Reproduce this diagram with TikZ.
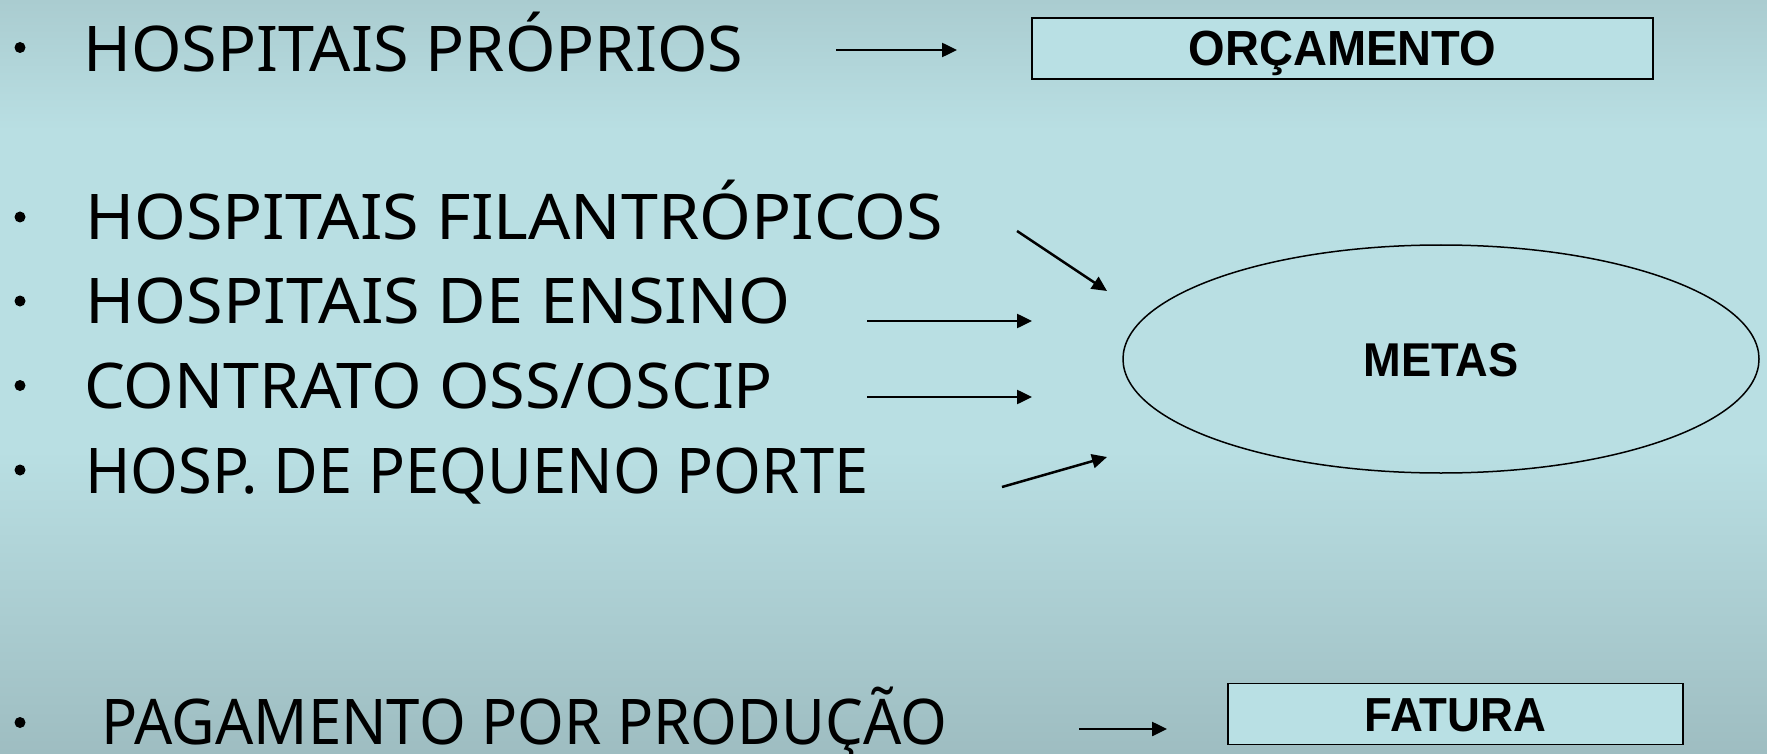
\documentclass[tikz,border=0pt]{standalone}
\usepackage{fontspec}
\setmainfont{Noto Sans}
\newfontfamily\arialfont{Liberation Sans}
\usetikzlibrary{arrows.meta,shapes.geometric}
\definecolor{bgtop}{RGB}{170,204,208}
\definecolor{bgmid}{RGB}{185,223,227}
\definecolor{bgbot}{RGB}{158,189,193}
\definecolor{boxfill}{RGB}{185,224,228}
\newcommand{\tallbox}[1]{\scalebox{1}[1.05]{#1}}
\tikzset{
  lbl/.style={anchor=base west, inner sep=0pt, font=\fontsize{63}{70}\selectfont},
  bul/.style={circle, fill=black, inner sep=0pt, minimum size=11pt},
  boxnode/.style={draw=black, line width=1.5pt, fill=boxfill, inner sep=0pt,
    minimum height=61pt, text height=35pt, text depth=0pt},
  arr/.style={line width=2.5pt, -{Triangle[length=15pt,width=14pt]}},
}
\begin{document}
\begin{tikzpicture}[x=1pt,y=-1pt]
\useasboundingbox (0,0) rectangle (1767,754);
% background
\shade[top color=bgtop,bottom color=bgmid] (0,0) rectangle (1767,131);
\fill[bgmid] (0,130) rectangle (1767,451);
\shade[top color=bgmid,bottom color=bgbot] (0,450) rectangle (1767,754);

% bullets
\node[bul] (b1) at (20,47.5) {};
\node[bul] (b2) at (20,217) {};
\node[bul] (b3) at (20,301) {};
\node[bul] (b4) at (20,385.5) {};
\node[bul] (b5) at (20,470) {};
\node[bul] (b6) at (20,722.5) {};

% texts
\node[lbl] (t1) at (83,72) {\resizebox{660pt}{\height}{HOSPITAIS PRÓPRIOS}};
\node[lbl] (t2) at (85,239) {\resizebox{858pt}{\height}{HOSPITAIS FILANTRÓPICOS}};
\node[lbl] (t3) at (85,323) {\resizebox{705pt}{\height}{HOSPITAIS DE ENSINO}};
\node[lbl] (t4) at (84,408) {\resizebox{689pt}{\height}{CONTRATO OSS/OSCIP}};
\node[lbl] (t5) at (85,493) {\resizebox{783pt}{\height}{HOSP. DE PEQUENO PORTE}};
\node[lbl] (t6) at (101,744) {\resizebox{846pt}{\height}{PAGAMENTO POR PRODUÇÃO}};

% boxes
\node[boxnode, minimum width=621pt, font=\arialfont\bfseries\fontsize{47}{50}\selectfont]
  (orc) at (1342.5,48.5) {\tallbox{ORÇAMENTO}};
\node[boxnode, minimum width=455pt, font=\arialfont\bfseries\fontsize{45.5}{50}\selectfont]
  (fat) at (1455.5,714) {\tallbox{FATURA}};
\node[draw=black, line width=1.5pt, ellipse, inner sep=0pt,
  minimum width=636pt, minimum height=228pt, text height=34pt, text depth=0pt,
  font=\arialfont\bfseries\fontsize{45.2}{50}\selectfont]
  (metas) at (1441,359) {\tallbox{METAS}};

% arrow end points
\coordinate (a1s) at (836,50);   \coordinate (a1e) at (957,50);
\coordinate (a2s) at (1017,231); \coordinate (a2e) at (1107,291);
\coordinate (a3s) at (867,321);  \coordinate (a3e) at (1032,321);
\coordinate (a4s) at (867,397);  \coordinate (a4e) at (1032,397);
\coordinate (a5s) at (1002,487); \coordinate (a5e) at (1107,457);
\coordinate (a6s) at (1079,729); \coordinate (a6e) at (1167,729);

\draw[arr] (a1s) -- (a1e);
\draw[arr] (a2s) -- (a2e);
\draw[arr] (a3s) -- (a3e);
\draw[arr] (a4s) -- (a4e);
\draw[arr] (a5s) -- (a5e);
\draw[arr] (a6s) -- (a6e);
\end{tikzpicture}
\end{document}
